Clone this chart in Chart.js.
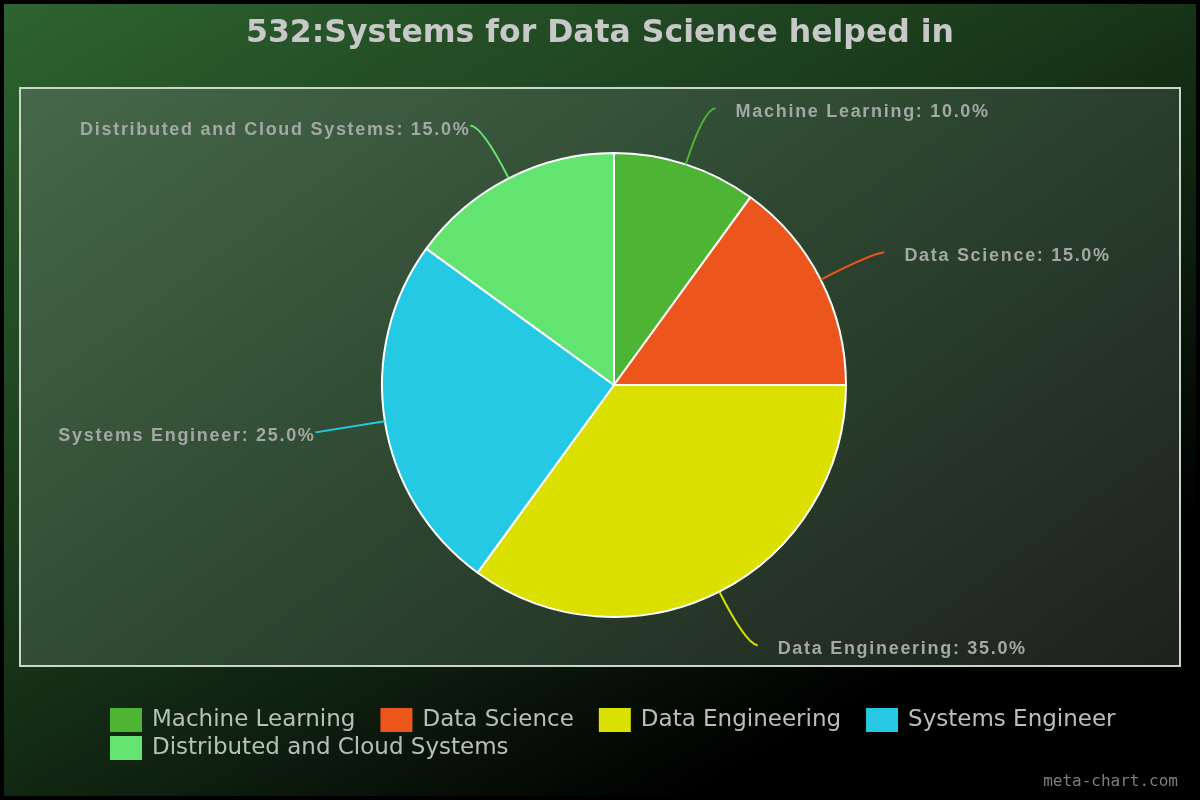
<!DOCTYPE html>
<html><head><meta charset="utf-8">
<style>html,body{margin:0;padding:0;background:#000;}canvas{display:block;}</style>
<script src="https://cdn.jsdelivr.net/npm/chart.js@4.4.1/dist/chart.umd.min.js"></script>
</head><body>
<canvas id="c" width="1200" height="800"></canvas>
<script>
const chartTitle = "532:Systems for Data Science helped in";
const categories = ["Machine Learning","Data Science","Data Engineering","Systems Engineer","Distributed and Cloud Systems"];
const values = [10, 15, 35, 25, 15];
const colors = ["#4db533","#ec561c","#dce000","#25c9e4","#63e470"];

const bgPlugin = {
  id: 'bg',
  beforeDraw(chart){
    const ctx = chart.ctx;
    ctx.save();
    ctx.fillStyle = '#000';
    ctx.fillRect(0,0,1200,800);
    let g = ctx.createLinearGradient(0,0,500,900);
    g.addColorStop(0,'#2e6330');
    g.addColorStop(0.5,'#1a3a1b');
    g.addColorStop(0.75,'#0e1f0f');
    g.addColorStop(1,'#000000');
    ctx.fillStyle = g;
    ctx.fillRect(4,4,1192,792);
    // plot area
    g = ctx.createLinearGradient(20,88,760,1100);
    g.addColorStop(0,'#46684a');
    g.addColorStop(0.45,'#2d4630');
    g.addColorStop(1,'#1b1b1b');
    ctx.fillStyle = g;
    ctx.fillRect(20,88,1160,578);
    ctx.strokeStyle = '#c9d6c9';
    ctx.lineWidth = 2;
    ctx.strokeRect(20,88,1160,578);
    // title
    ctx.fillStyle = '#c8c8c8';
    ctx.font = 'bold 31.5px "DejaVu Sans"';
    ctx.textAlign = 'center';
    ctx.textBaseline = 'middle';
    ctx.fillText(chartTitle, 600, 34);
    ctx.restore();
  },
  afterDraw(chart){
    const ctx = chart.ctx;
    const meta = chart.getDatasetMeta(0);
    const total = values.reduce((a,b)=>a+b,0);
    ctx.save();
    meta.data.forEach((arc,i)=>{
      const p = arc.getProps(['x','y','startAngle','endAngle','outerRadius'], true);
      const mid = (p.startAngle + p.endAngle)/2;
      const cx = Math.cos(mid), cy = Math.sin(mid);
      const sx = p.x + cx*p.outerRadius, sy = p.y + cy*p.outerRadius;
      const ex = p.x + cx*(p.outerRadius+58), ey = p.y + cy*(p.outerRadius+58);
      const right = cx >= 0;
      const tx = ex + (right ? 12 : -12), ty = ey + (cy<0 ? -1 : 2);
      ctx.strokeStyle = colors[i];
      ctx.lineWidth = 2;
      ctx.beginPath();
      ctx.moveTo(sx,sy);
      ctx.quadraticCurveTo(ex,ey,tx,ty);
      ctx.stroke();
      const label = categories[i] + ': ' + (values[i]/total*100).toFixed(1) + '%';
      ctx.font = 'bold 18px "Liberation Sans"';
      ctx.letterSpacing = '1.7px';
      ctx.fillStyle = '#a4a8a4';
      ctx.textBaseline = 'middle';
      ctx.textAlign = right ? 'left' : 'right';
      ctx.fillText(label, right ? tx+20 : tx, ty+4);
    });
    ctx.letterSpacing = '0px';
    // legend
    ctx.font = '23px "DejaVu Sans"';
    ctx.textAlign = 'left';
    ctx.textBaseline = 'middle';
    const rows = [[0,1,2,3],[4]];
    let y = 720;
    rows.forEach(r=>{
      let x = 110;
      r.forEach(i=>{
        ctx.fillStyle = colors[i];
        ctx.fillRect(x, y-12, 32, 24);
        ctx.fillStyle = '#b7c0b7';
        ctx.fillText(categories[i], x+42, y);
        x += 42 + ctx.measureText(categories[i]).width + 25;
      });
      y += 28;
    });
    // watermark
    ctx.font = '16px "DejaVu Sans Mono"';
    ctx.fillStyle = '#7e7e7e';
    ctx.textAlign = 'right';
    ctx.fillText('meta-chart.com', 1178, 782);
    ctx.restore();
  }
};

new Chart(document.getElementById('c'), {
  type: 'pie',
  data: { labels: categories, datasets: [{ data: values, backgroundColor: colors, borderColor: '#ffffff', borderWidth: 2 }] },
  options: {
    responsive: false, animation: false, devicePixelRatio: 1,
    layout: { padding: { top: 152, bottom: 182, left: 28, right: 0 } },
    plugins: { legend: { display: false }, title: { display: false }, tooltip: { enabled: false } }
  },
  plugins: [bgPlugin]
});
</script>
</body></html>
